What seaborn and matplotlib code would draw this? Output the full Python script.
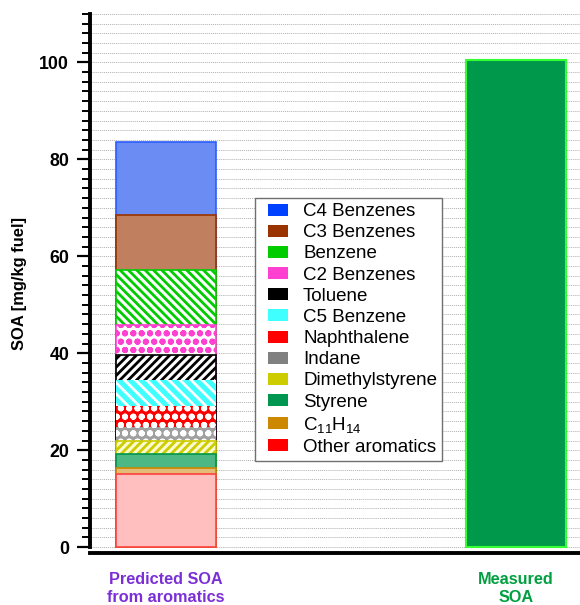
import numpy as np
import pandas as pd
import matplotlib
matplotlib.use("Agg")
import matplotlib.pyplot as plt
from matplotlib.lines import Line2D
from matplotlib.ticker import MultipleLocator
import seaborn as sns

categories = ["Predicted SOA\nfrom aromatics", "Measured\nSOA"]

# stacked components, bottom to top
components = ["Other aromatics", "C$_{11}$H$_{14}$", "Styrene", "Dimethylstyrene",
              "Indane", "Naphthalene", "C5 Benzene", "Toluene", "C2 Benzenes",
              "Benzene", "C3 Benzenes", "C4 Benzenes"]
values = [15.0, 1.4, 2.9, 2.7, 2.7, 4.4, 5.4, 5.2, 6.2, 11.3, 11.4, 14.9]
measured = 100.5

legend_colors = ["#ff0000", "#cc8800", "#009650", "#cccc00", "#808080", "#ff0000",
                 "#40ffff", "#000000", "#ff40d0", "#00cc00", "#993300", "#0040ff"]
fill_colors = ["#ffbfbf", "#e4bc78", "#4db884", "#fbfbd0", "#a0a0a0", "#ff0000",
               "#40ffff", "#ffffff", "#ffffff", "#ffffff", "#c08060", "#6b8cf2"]
edge_colors = ["#ff4040", "#cc8800", "#00964b", "#cccc00", "#ffffff", "#ffffff",
               "#ffffff", "#000000", "#ff40d0", "#00cc00", "#993300", "#2a5cff"]
hatches = [None, None, None, "////", "oo", "oo", "\\\\\\", "////", "oo", "\\\\\\\\", None, None]

sns.set_style("white")
plt.rcParams["font.family"] = ["Liberation Sans", "DejaVu Sans"]
plt.rcParams["mathtext.default"] = "regular"
plt.rcParams["hatch.linewidth"] = 2.0
for k in ["text.color", "axes.labelcolor", "xtick.color", "ytick.color", "axes.edgecolor"]:
    plt.rcParams[k] = "black"

fig = plt.figure(figsize=(5.8, 6.05), dpi=100)
ax = fig.add_axes([0.155, 0.086, 0.845, 0.891])

tops = np.cumsum(values)
bw = 0.286

# draw cumulative bars from the top layer down, each one covering the next
for i in range(len(values) - 1, -1, -1):
    df = pd.DataFrame({"cat": [categories[0]], "val": [tops[i]]})
    sns.barplot(data=df, x="cat", y="val", order=categories, ax=ax,
                color=fill_colors[i], saturation=1, width=bw, errorbar=None,
                edgecolor=edge_colors[i], hatch=hatches[i],
                linewidth=0 if edge_colors[i] == "#ffffff" else 1.2)

df_m = pd.DataFrame({"cat": [categories[1]], "val": [measured]})
sns.barplot(data=df_m, x="cat", y="val", order=categories, ax=ax,
            color="#00994c", saturation=1, width=bw, errorbar=None,
            edgecolor="#33ff33", linewidth=1.5)

ax.set_xlim(-0.217, 1.183)
ax.set_ylim(-1.2, 110)
ax.set_xlabel("")
ax.set_ylabel("SOA [mg/kg fuel]", fontsize=11.9, fontweight="bold", labelpad=9)

ax.yaxis.set_major_locator(MultipleLocator(20))
ax.yaxis.set_minor_locator(MultipleLocator(2))
ax.set_axisbelow(True)
ax.yaxis.grid(True, which="both", linestyle=(0, (1, 1)), color="#b0b0b0", linewidth=0.7)
ax.xaxis.grid(False)

for s in ["top", "right"]:
    ax.spines[s].set_visible(False)
ax.spines["left"].set_linewidth(2.8)
ax.spines["bottom"].set_linewidth(2.8)
ax.spines["left"].set_bounds(0, 110)

ax.tick_params(axis="y", which="major", direction="out", length=9.4, width=1.6,
               labelsize=12.8, pad=5.5, left=True)
ax.tick_params(axis="y", which="minor", direction="out", length=5.8, width=1.4, left=True)
ax.tick_params(axis="x", length=0, pad=14, labelsize=11.7)
for t in ax.get_yticklabels():
    t.set_fontweight("bold")
label_colors = ["#7b2fd6", "#00a040"]
for t, c in zip(ax.get_xticklabels(), label_colors):
    t.set_color(c)
    t.set_fontweight("bold")

rect = [(-1, -0.58), (1, -0.58), (1, 0.58), (-1, 0.58), (-1, -0.58)]
handles = [Line2D([], [], linestyle="none", marker=rect, markersize=13.7,
                  markerfacecolor=legend_colors[i], markeredgewidth=0,
                  label=components[i])
           for i in range(len(components) - 1, -1, -1)]
leg = ax.legend(handles=handles, loc="upper left", bbox_to_anchor=(0.3367, 0.6586),
                fontsize=13.5, frameon=True, fancybox=False, framealpha=1,
                edgecolor="#707070", handlelength=1.87, handletextpad=0.43,
                labelspacing=0.215, borderpad=0.27, borderaxespad=0)
leg.get_frame().set_linewidth(1.0)

fig.savefig("out.png", dpi=100)
